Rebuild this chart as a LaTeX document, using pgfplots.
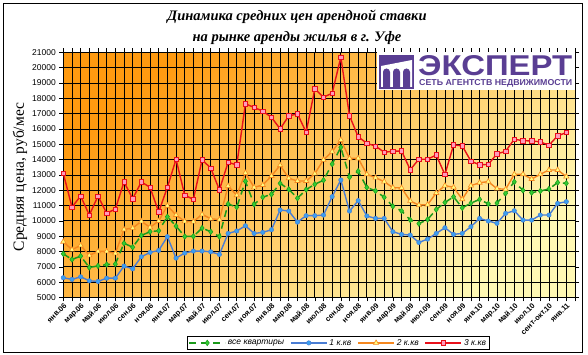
\documentclass[border=0pt]{standalone}
\usepackage{pgfplots}
\pgfplotsset{compat=1.18}
\usepackage{pgfplotstable}
\usepackage{fontspec}
\setmainfont{Liberation Serif}
\newfontfamily\arial{Liberation Sans}
\definecolor{cred}{HTML}{E8101A}
\definecolor{cpink}{HTML}{FF99BB}
\definecolor{corange}{HTML}{F5871F}
\definecolor{cyellow}{HTML}{FFFF80}
\definecolor{cblue}{HTML}{4A7DD4}
\definecolor{clblue}{HTML}{3AA0F0}
\definecolor{cgreen}{HTML}{1A9A1A}
\definecolor{clgreen}{HTML}{33CC33}
\definecolor{bgtop}{HTML}{FF9A10}
\definecolor{bgbot}{HTML}{FFF8B4}
\definecolor{logo}{HTML}{5A3E93}

\pgfplotstableread{
i one two three all
0 6290 8640 13100 7850
1 6180 8120 10900 7480
2 6350 8400 11620 7700
3 6090 7750 10380 6960
4 6050 8010 11620 7060
5 6260 8010 10500 7150
6 6260 7880 10770 7180
7 7050 9440 12540 8540
8 6870 9530 11450 8280
9 7660 9970 12540 9050
10 7940 9580 12190 9290
11 8070 9990 10580 9360
12 8970 10990 12190 10270
13 7570 10380 14020 9660
14 7900 9970 11680 8980
15 8030 9950 11400 8990
16 8030 10420 13980 9530
17 7980 10140 13450 9290
18 7810 10080 12020 8980
19 9180 12280 13820 11100
20 9340 11670 13650 10900
21 9680 13130 17640 12580
22 9180 12190 17400 11080
23 9250 12340 17160 11550
24 9420 12930 16760 11730
25 10710 13630 16000 12450
26 10640 12780 16850 12060
27 9920 12600 16980 11480
28 10340 12600 15780 12040
29 10340 13080 18610 12390
30 10380 13980 18070 12650
31 11580 14520 18330 13710
32 12670 15290 20680 14800
33 10640 14080 16860 12850
34 11320 14080 15490 13240
35 10320 13040 15060 12180
36 10160 12820 14880 11960
37 10160 12560 14480 11540
38 9290 12170 14540 10950
39 9120 12150 14560 10650
40 9070 11300 13340 10060
41 8590 11030 14020 9820
42 8810 11060 14020 10090
43 9180 11820 14300 10740
44 9550 12300 13020 11200
45 9120 12190 14960 11570
46 9180 11410 14890 10850
47 9620 12300 13900 11160
48 10160 12490 13650 11400
49 9990 12560 13690 11110
50 9840 12100 14370 11160
51 10490 12060 14540 11800
52 10660 13040 15330 12550
53 10050 13040 15230 11990
54 10050 12730 15220 11840
55 10380 13040 15150 11950
56 10380 13320 14940 12080
57 11140 13320 15550 12500
58 11250 12890 15760 12450
}\datatable

\begin{document}
\begin{tikzpicture}[x=1pt,y=1pt]
\path[fill=white] (0,0) rectangle (588,355);
\begin{axis}[
  at={(63.3pt,57.5pt)}, anchor=south west,
  width=511.7pt, height=245.2pt, scale only axis,
  xmin=0, xmax=59, ymin=5000, ymax=21000,
  axis background/.style={top color=bgtop, bottom color=bgbot, shading angle=40},
  xtick={0,2,...,58},
  minor xtick={1,3,...,59},
  xticklabels={янв.06,мар.06,май.06,июл.06,сен.06,ноя.06,янв.07,мар.07,май.07,июл.07,сен.07,ноя.07,янв.08,мар.08,май.08,июл.08,сен.08,ноя.08,янв.09,мар.09,май.09,июл.09,сен.09,ноя.09,янв.10,мар.10,май.10,июл.10,сент-окт.10,янв.11},
  xticklabel style={rotate=45, anchor=north east, inner sep=0.5pt, font=\arial\bfseries\fontsize{7.5}{8}\selectfont},
  ytick={5000,6000,...,21000},
  scaled y ticks=false,
  yticklabel style={font=\arial\fontsize{8.5}{10}\selectfont},
  /pgf/number format/assume math mode=true,
  /pgf/number format/1000 sep={},
  grid=both,
  major grid style={black, line width=0.75pt},
  minor grid style={black, line width=0.75pt},
  tick align=outside, major tick length=4pt, minor tick length=4pt,
  tick style={black, line width=0.6pt},
  axis line style={black, line width=0.8pt},
  legend columns=4,
  legend style={at={(0.2423,-0.157)}, anchor=north west, draw=black, fill=white,
    font=\arial\itshape\fontsize{8.5}{9}\selectfont, inner sep=1pt,
    /tikz/every even column/.append style={column sep=4pt}},
  legend image code/.code={\draw[mark repeat=2,mark phase=2] plot coordinates {(0pt,0pt) (18pt,0pt) (36pt,0pt)};},
]
\addplot[cgreen, line width=1.5pt, dash pattern=on 7pt off 5pt, mark=diamond*, mark size=2.8pt, mark options={solid, fill=clgreen, draw=cgreen, line width=0.5pt}] table[x=i,y=all]{\datatable};
\addlegendentry{все квартиры}
\addplot[cblue, line width=1.4pt, mark=*, mark size=2.2pt, mark options={solid, fill=clblue, draw=cblue, line width=0.5pt}] table[x=i,y=one]{\datatable};
\addlegendentry{1 к.кв}
\addplot[corange, line width=1.4pt, mark=triangle*, mark size=3pt, mark options={solid, fill=cyellow, draw=corange, line width=0.6pt}] table[x=i,y=two]{\datatable};
\addlegendentry{2 к.кв}
\addplot[cred, line width=1.4pt, mark=square*, mark size=2.2pt, mark options={solid, fill=cpink, draw=cred, line width=0.6pt}] table[x=i,y=three]{\datatable};
\addlegendentry{3 к.кв}
\end{axis}
% logo
\fill[white] (377,265) rectangle (575,303);
\fill[logo] (379,266) rectangle (414,300);
\fill[white] (381,268) -- (381,289) -- (412,295) -- (412,268) -- cycle;
\fill[logo] (383,268) -- (383,283) arc[start angle=180,end angle=0,radius=3.5] -- (390,268) -- cycle;
\fill[logo] (393,268) -- (393,283) arc[start angle=180,end angle=0,radius=3.5] -- (400,268) -- cycle;
\fill[logo] (403,268) -- (403,283) arc[start angle=180,end angle=0,radius=3.5] -- (410,268) -- cycle;
\node[inner sep=0, anchor=south west, text=logo] at (418,279) {\resizebox{154pt}{20pt}{\arial\bfseries ЭКСПЕРТ}};
\node[inner sep=0, anchor=south west, text=logo] at (419,267.5) {\resizebox{153pt}{6pt}{\arial\bfseries СЕТЬ АГЕНТСТВ НЕДВИЖИМОСТИ}};
% title
\node[font=\bfseries\itshape\fontsize{14.5}{16}\selectfont] at (297,338) {Динамика средних цен арендной ставки};
\node[font=\bfseries\itshape\fontsize{14.5}{16}\selectfont] at (297,317) {на рынке аренды жилья в г. Уфе};
% y label
\node[rotate=90, font=\fontsize{15.5}{17}\selectfont] at (20,178) {Средняя цена, руб/мес};
% frame
\draw[black, line width=0.8pt] (3,3) rectangle (582,352);
\end{tikzpicture}
\end{document}
